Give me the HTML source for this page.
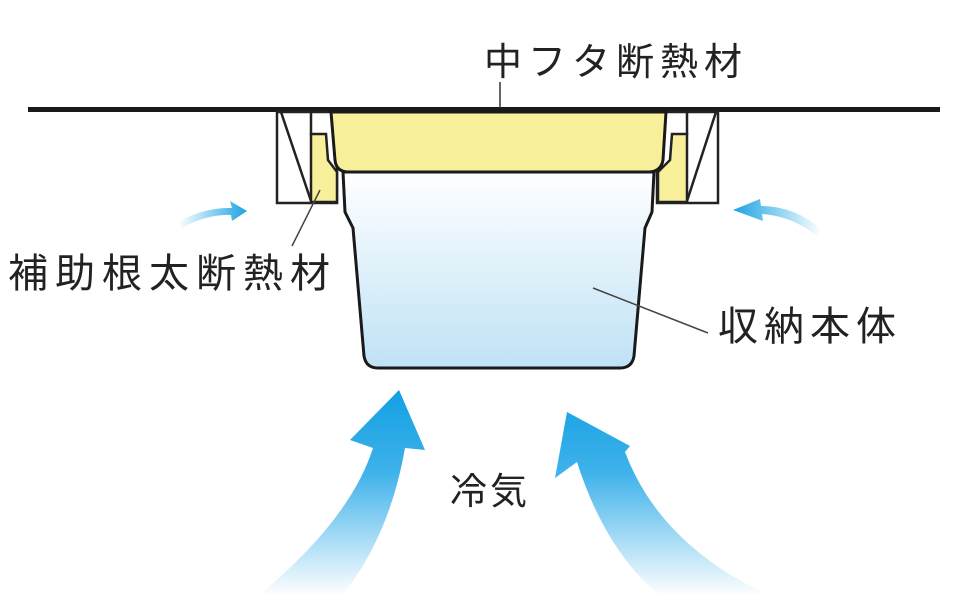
<!DOCTYPE html>
<html><head><meta charset="utf-8"><style>
html,body{margin:0;padding:0;background:#fff;}
svg{display:block;}
text{font-family:"Liberation Sans","Noto Sans CJK JP",sans-serif;fill:#222;}
</style></head><body>
<svg width="960" height="596" viewBox="0 0 960 596" xmlns="http://www.w3.org/2000/svg">
<defs>
<linearGradient id="box" x1="0" y1="0" x2="0" y2="1">
<stop offset="0" stop-color="#ffffff"/><stop offset="1" stop-color="#bfe2f6"/>
</linearGradient>
<linearGradient id="arL" x1="0" y1="390" x2="0" y2="596" gradientUnits="userSpaceOnUse">
<stop offset="0" stop-color="#12a0e2"/><stop offset="0.4" stop-color="#3fb2ea"/><stop offset="1" stop-color="#ffffff"/>
</linearGradient>
<linearGradient id="arS" x1="0" y1="0" x2="1" y2="0">
<stop offset="0" stop-color="#ffffff"/><stop offset="1" stop-color="#1ba3e3"/>
</linearGradient>
<linearGradient id="arS2" x1="1" y1="0" x2="0" y2="0">
<stop offset="0" stop-color="#ffffff"/><stop offset="1" stop-color="#1ba3e3"/>
</linearGradient>
</defs>

<rect x="28" y="107" width="912" height="5" fill="#1a1a1a"/>

<rect x="277" y="112" width="60" height="91" fill="#fff" stroke="#222" stroke-width="2.5"/>
<line x1="281" y1="112" x2="311" y2="201" stroke="#222" stroke-width="2.5"/>
<line x1="311" y1="112" x2="311" y2="135" stroke="#222" stroke-width="2.5"/>
<path d="M311 134 L326 134 L328 160 L337 172 L337 202 L311 202 Z" fill="#f8ef9a" stroke="#222" stroke-width="2.5"/>

<rect x="657" y="112" width="61" height="91" fill="#fff" stroke="#222" stroke-width="2.5"/>
<line x1="716" y1="112" x2="687" y2="201" stroke="#222" stroke-width="2.5"/>
<line x1="687" y1="112" x2="687" y2="135" stroke="#222" stroke-width="2.5"/>
<path d="M687 134 L672 134 L670 160 L658 172 L658 202 L687 202 Z" fill="#f8ef9a" stroke="#222" stroke-width="2.5"/>

<path d="M343 172 L345 212 L353 228 L364 356 Q366 368 378 368 L620 368 Q632 368 634 356 L645 228 L652 212 L654 172 Z" fill="url(#box)" stroke="#1a1a1a" stroke-width="3"/>

<path d="M331 112 L666 112 L663 160 Q661 172 648 172 L349 172 Q336 172 335 160 Z" fill="#f8ef9a" stroke="#1a1a1a" stroke-width="3"/>

<line x1="500" y1="82" x2="500" y2="108" stroke="#333" stroke-width="1.5"/>
<line x1="320" y1="190" x2="292" y2="246" stroke="#444" stroke-width="1.5"/>
<line x1="593" y1="288" x2="708" y2="333" stroke="#444" stroke-width="1.5"/>

<path d="M178 222 Q205 207 232 208 L230 201 L247 211 L232 221 L231 215 Q207 214 182 228 Z" fill="url(#arS)"/>
<path d="M817 236 Q792 216 762 214 L763 221 L733 210 L760 199 L761 206 Q795 206 822 230 Z" fill="url(#arS2)"/>

<path d="M258 596 Q350 520 373 448 L350 440 L399 390 L425 450 L405 448 Q390 535 342 596 Z" fill="url(#arL)"/>
<path d="M770 596 Q660 545 625 452 L630 446 L567 412 L555 478 L577 462 Q605 550 660 596 Z" fill="url(#arL)"/>

<text x="484" y="75" font-size="38" letter-spacing="6">中フタ断熱材</text>
<text x="8" y="287" font-size="40" letter-spacing="7">補助根太断熱材</text>
<text x="718" y="340" font-size="40" letter-spacing="6">収納本体</text>
<text x="450" y="504" font-size="37" letter-spacing="3">冷気</text>
</svg>
</body></html>
